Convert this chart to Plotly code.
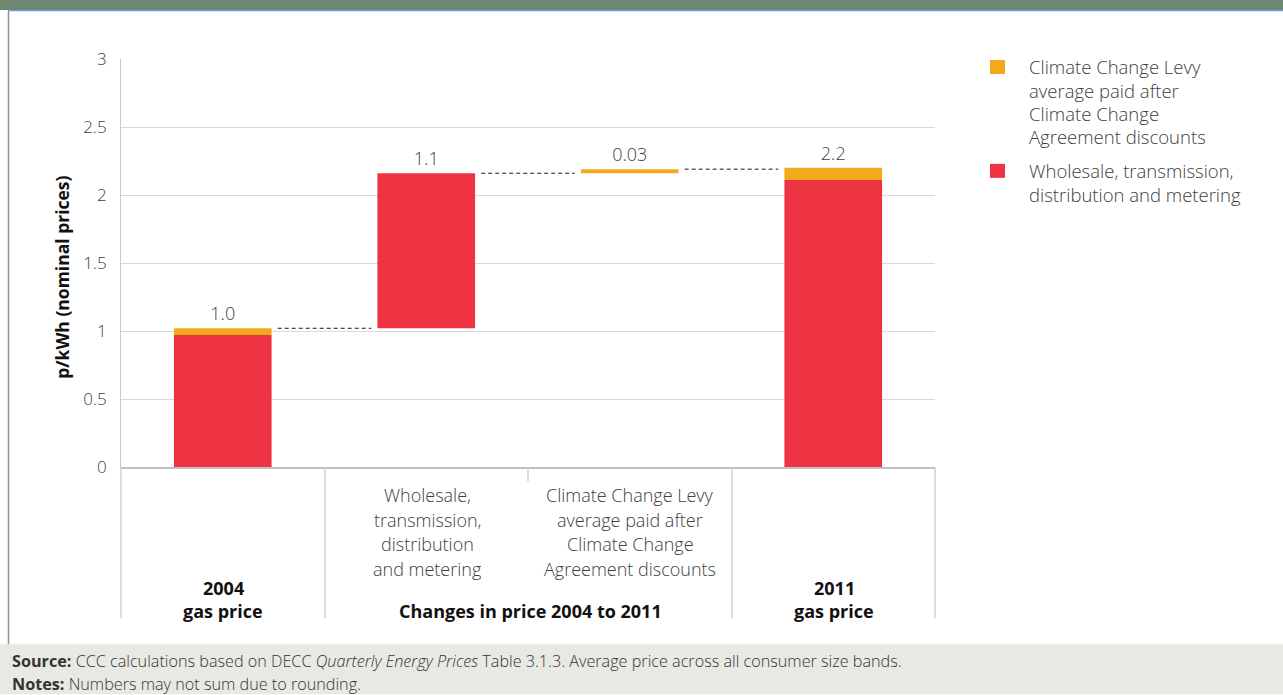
import plotly.graph_objects as go

# ---- data (p/kWh, nominal prices) ----
categories = ["2004 gas price", "Wholesale change", "CCL change", "2011 gas price"]
start_wholesale = 0.97   # 2004 wholesale, transmission, distribution and metering
start_ccl = 0.05         # 2004 Climate Change Levy
delta_wholesale = 1.14   # change in wholesale etc. 2004 to 2011
delta_ccl = 0.03         # change in Climate Change Levy 2004 to 2011
end_wholesale = 2.11     # 2011 wholesale etc.
end_ccl = 0.09           # 2011 Climate Change Levy

y_ticks = [0, 0.5, 1, 1.5, 2, 2.5, 3]

category_lines = [
    ["Wholesale,", "transmission,", "distribution", "and metering"],
    ["Climate Change Levy", "average paid after", "Climate Change", "Agreement discounts"],
]
group_labels = [["2004", "gas price"], ["Changes in price 2004 to 2011"], ["2011", "gas price"]]
legend_ccl = ["Climate Change Levy", "average paid after", "Climate Change", "Agreement discounts"]
legend_wholesale = ["Wholesale, transmission,", "distribution and metering"]

RED = "#ee3342"
ORANGE = "#f0aa1a"
TEXT = "#404040"
GRID = "#d9d9d9"
FONT = "Open Sans"
LIGHT = 300

# ---- waterfall geometry derived from the values ----
start_total = start_wholesale + start_ccl
after_wholesale = start_total + delta_wholesale
after_ccl = after_wholesale + delta_ccl
end_total = end_wholesale + end_ccl

BAR_W = 0.48

# plot-area pixel frame used for placing text outside the axes
X0, X1 = 121, 935
Y0, Y1 = 467.5, 59


def px_x(p):
    return (p - X0) / (X1 - X0)


def px_y(p):
    return (Y0 - p) / (Y0 - Y1)


fig = go.Figure()

label_font = dict(family=FONT, size=18, color=TEXT, weight=LIGHT)
ccl_labels = [f"{start_total:.1f}", f"{delta_ccl:.2f}", f"{end_total:.1f}"]

fig.add_trace(go.Bar(
    name="Climate Change Levy average paid after Climate Change Agreement discounts",
    x=[categories[0], categories[2], categories[3]],
    base=[start_wholesale, after_wholesale, end_wholesale],
    y=[start_ccl, delta_ccl, end_ccl],
    marker=dict(color=ORANGE, line=dict(width=0)),
    width=BAR_W,
    text=ccl_labels,
    textposition="outside",
    textfont=label_font,
    cliponaxis=False,
    hoverinfo="skip",
))
fig.add_trace(go.Bar(
    name="Wholesale, transmission, distribution and metering",
    x=[categories[0], categories[1], categories[3]],
    base=[0, start_total, 0],
    y=[start_wholesale, delta_wholesale, end_wholesale],
    marker=dict(color=RED, line=dict(width=0)),
    width=BAR_W,
    text=["", f"{delta_wholesale:.1f}", ""],
    textposition="outside",
    textfont=label_font,
    cliponaxis=False,
    hoverinfo="skip",
))

shapes = []
# dashed connectors between consecutive bars
gap = 0.03
for i, level in enumerate([start_total, after_wholesale, after_ccl]):
    shapes.append(dict(
        type="line", xref="x", yref="y",
        x0=i + BAR_W / 2 + gap, x1=i + 1 - BAR_W / 2 - gap,
        y0=level, y1=level,
        line=dict(color="#1a1a1a", width=1, dash="4px,3px"),
    ))

# category dividers below the axis
for xp, ybot in [(121, 619), (325, 619), (528, 482), (732, 619), (935, 619)]:
    shapes.append(dict(
        type="line", xref="paper", yref="paper",
        x0=px_x(xp), x1=px_x(xp), y0=px_y(467.5), y1=px_y(ybot),
        line=dict(color="#d0d0d0", width=1.5),
    ))

# page furniture: header band, frame lines and footer panel
shapes += [
    dict(type="rect", xref="paper", yref="paper", layer="below",
         x0=px_x(0), x1=px_x(1283), y0=px_y(0), y1=px_y(10),
         fillcolor="#6f8670", line=dict(width=0)),
    dict(type="line", xref="paper", yref="paper",
         x0=px_x(8), x1=px_x(1283), y0=px_y(10.5), y1=px_y(10.5),
         line=dict(color="#6b9fd6", width=1.5)),
    dict(type="line", xref="paper", yref="paper",
         x0=px_x(8.5), x1=px_x(8.5), y0=px_y(11), y1=px_y(645),
         line=dict(color="#8a998a", width=1.5)),
    dict(type="rect", xref="paper", yref="paper", layer="below",
         x0=px_x(0), x1=px_x(1283), y0=px_y(645), y1=px_y(695),
         fillcolor="#e9e9e4", line=dict(width=0)),
]

annotations = []


def add_text(text, xp, yp, size=18, color=TEXT, xanchor="center", bold=False, **kw):
    annotations.append(dict(
        text=f"<b>{text}</b>" if bold else text,
        xref="paper", yref="paper", x=px_x(xp), y=px_y(yp),
        xanchor=xanchor, yanchor="middle", showarrow=False,
        font=dict(family=FONT, size=size, color=color,
                  weight="normal" if bold else LIGHT), **kw,
    ))


# category descriptions for the two change columns
for lines, xc in zip(category_lines, [427, 630]):
    for k, line in enumerate(lines):
        add_text(line, xc, 496 + k * 24.4)

# bold group labels
for k, line in enumerate(group_labels[0]):
    add_text(line, 223, 589 + k * 23, bold=True, color="#111111", size=18)
add_text(group_labels[1][0], 530, 612, bold=True, color="#111111", size=18)
for k, line in enumerate(group_labels[2]):
    add_text(line, 834, 589 + k * 23, bold=True, color="#111111", size=18)

# y-axis title
add_text("p/kWh (nominal prices)", 62, 278, size=17.5, bold=True, color="#111111", textangle=-90)

# legend
shapes.append(dict(type="rect", xref="paper", yref="paper",
                   x0=px_x(990), x1=px_x(1005), y0=px_y(60), y1=px_y(74),
                   fillcolor=ORANGE, line=dict(width=0)))
shapes.append(dict(type="rect", xref="paper", yref="paper",
                   x0=px_x(990), x1=px_x(1005), y0=px_y(164), y1=px_y(178),
                   fillcolor=RED, line=dict(width=0)))
for k, line in enumerate(legend_ccl):
    add_text(line, 1027, 67 + k * 23.3, xanchor="left", size=18.5)
for k, line in enumerate(legend_wholesale):
    add_text(line, 1027, 171 + k * 23.3, xanchor="left", size=18.5)

# footer notes
add_text("<b>Source:</b> CCC calculations based on DECC <i>Quarterly Energy Prices</i> Table 3.1.3. "
         "Average price across all consumer size bands.", 10, 662, size=16.2, color="#333333",
         xanchor="left")
add_text("<b>Notes:</b> Numbers may not sum due to rounding.", 10, 684.5, size=16.2,
         color="#333333", xanchor="left")

fig.update_layout(
    width=1283, height=695,
    margin=dict(l=X0, r=1283 - X1, t=Y1, b=695 - Y0),
    paper_bgcolor="white", plot_bgcolor="white",
    barmode="overlay",
    showlegend=False,
    shapes=shapes,
    annotations=annotations,
    font=dict(family=FONT, color=TEXT),
    xaxis=dict(
        type="category", categoryorder="array", categoryarray=categories,
        range=[-0.5, 3.5], showticklabels=False, showgrid=False,
        showline=True, linecolor="#c0c0c0", linewidth=1.5, ticks="",
        zeroline=False, fixedrange=True,
    ),
    yaxis=dict(
        range=[0, 3], tickvals=y_ticks, ticktext=[f"{v:g}" for v in y_ticks],
        showgrid=True, gridcolor=GRID, gridwidth=1,
        showline=True, linecolor="#c8c8c8", linewidth=1,
        zeroline=False, ticks="", ticklabelstandoff=10,
        tickfont=dict(family=FONT, size=17, color=TEXT, weight=LIGHT),
        fixedrange=True,
    ),
)

fig.write_html("out.html", config={"displayModeBar": False})
